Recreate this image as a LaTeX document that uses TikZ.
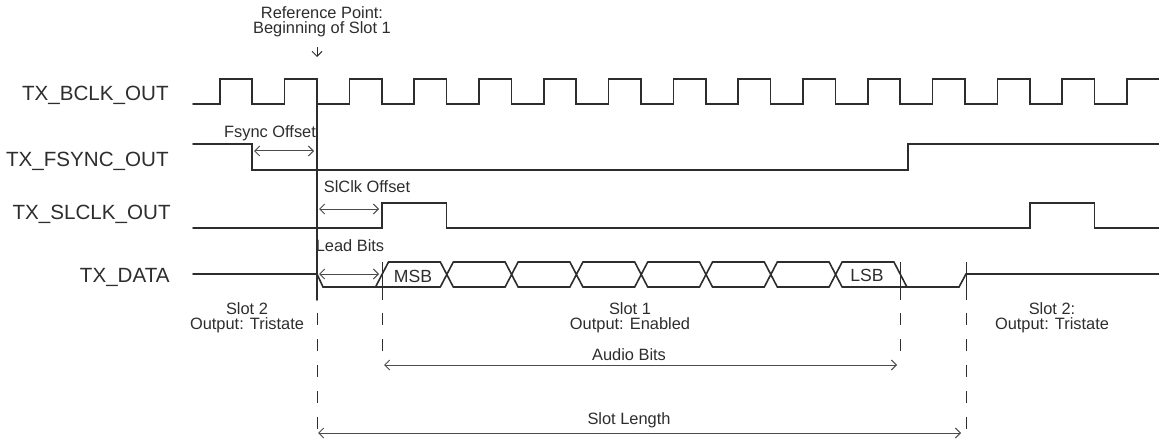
\documentclass[tikz,border=0pt]{standalone}
\usepackage{fontspec}
\setmainfont{Liberation Sans}
\usetikzlibrary{arrows.meta}
\definecolor{wavecol}{RGB}{45,45,45}
\definecolor{markcol}{RGB}{75,75,75}
\tikzset{
  wave/.style={draw=wavecol,line width=0.8pt,line cap=round},
  guide/.style={draw=wavecol,line width=0.5pt},
  meas/.style={draw=markcol,line width=0.5pt,<->},
  sig/.style={anchor=base east,inner sep=0pt,text=wavecol,font=\fontsize{10.3}{12}\selectfont},
  note/.style={inner sep=0pt,text=wavecol,align=center,font=\fontsize{8.2}{7.3}\selectfont},
  bits/.style={inner sep=0pt,text=wavecol,font=\fontsize{8.8}{10}\selectfont}
}

\begin{document}
\begin{tikzpicture}[x=0.5pt,y=-0.5pt,>={Straight Barb[length=2.5pt,width=5pt]}]
\useasboundingbox (0,0) rectangle (1159,438);
% 信号名
\node[sig] (bclk) at (169,100.5) {TX\_BCLK\_OUT};
\node[sig] (fsync) at (169,166.5) {TX\_FSYNC\_OUT};
\node[sig] (slclk) at (171,220) {TX\_SLCLK\_OUT};
\node[sig] (data) at (170,282.5) {TX\_DATA};
% 参考点
\node[note] (refpt) at (322,22) {Reference Point:\\Beginning of Slot 1};
\draw[guide,->] (317,47) -- (317,57);
\draw[wave] (317,79) -- (317,300);
\draw[guide,dash pattern=on 6pt off 7pt] (317,313) -- (317,438);
% 位时钟
\draw[wave] (193,104) -- (219.8,104)
  \foreach \k in {1,...,14} { -- ++(0,-25) -- ++(32.4,0) -- ++(0,25) -- ++(32.4,0) }
  -- ++(0,-25) -- (1159,79);
% 帧同步
\draw[wave] (193,144) -- (252.2,144) -- (252.2,170) -- (908,170) -- (908,144) -- (1159,144);
\node[note] (fsoff) at (270,133) {Fsync Offset};
\draw[meas] (254,151) -- (314,151);
% 时隙时钟
\draw[wave] (193,228) -- (382,228) -- (382,203) -- (446.6,203) -- (446.6,228)
  -- (1030,228) -- (1030,203) -- (1094.6,203) -- (1094.6,228) -- (1159,228);
\node[note] (scoff) at (367,187) {SlClk Offset};
\draw[meas] (319,209) -- (379,209);
% 数据
\draw[wave] (193,274) -- (317,274) -- (323,287) -- (440.3,287);
\draw[wave] (375.5,287) -- (388.5,262);
\foreach \k in {0,...,7}
  \draw[wave] ({388.5+64.8*\k},262) -- ({375.5+64.8*(\k+1)},262);
\foreach \k in {1,...,6}
  \draw[wave] ({388.5+64.8*\k},287) -- ({375.5+64.8*(\k+1)},287);
\foreach \k in {1,...,7}
  \draw[wave] ({375.5+64.8*\k},262) -- ({388.5+64.8*\k},287)
    ({375.5+64.8*\k},287) -- ({388.5+64.8*\k},262);
\draw[wave] (893.9,262) -- (906.9,287);
\draw[wave] (842.1,287) -- (959,287) -- (966,274) -- (1159,274);
\node[bits] (msb) at (413,276) {MSB};
\node[bits] (lsb) at (867,275) {LSB};
\node[note] (lead) at (350,246) {Lead Bits};
\draw[meas] (319,274) -- (379,274);
% 虚线
\foreach \x/\e in {382/352,900.4/352,966/438} {
  \draw[guide] (\x,262) -- (\x,300);
  \draw[guide,dash pattern=on 6pt off 7pt] (\x,313) -- (\x,\e);
}
% 时隙
\node[note] (slotb) at (247,318) {Slot 2\\Output: Tristate};
\node[note] (slota) at (630,318) {Slot 1\\Output: Enabled};
\node[note] (slotc) at (1052,318) {Slot 2:\\Output: Tristate};
\node[note] (audio) at (629,354.5) {Audio Bits};
\draw[meas] (384,365) -- (897,365);
\node[note] (slotlen) at (629,420) {Slot Length};
\draw[meas] (318,433) -- (961,433);
\end{tikzpicture}
\end{document}
